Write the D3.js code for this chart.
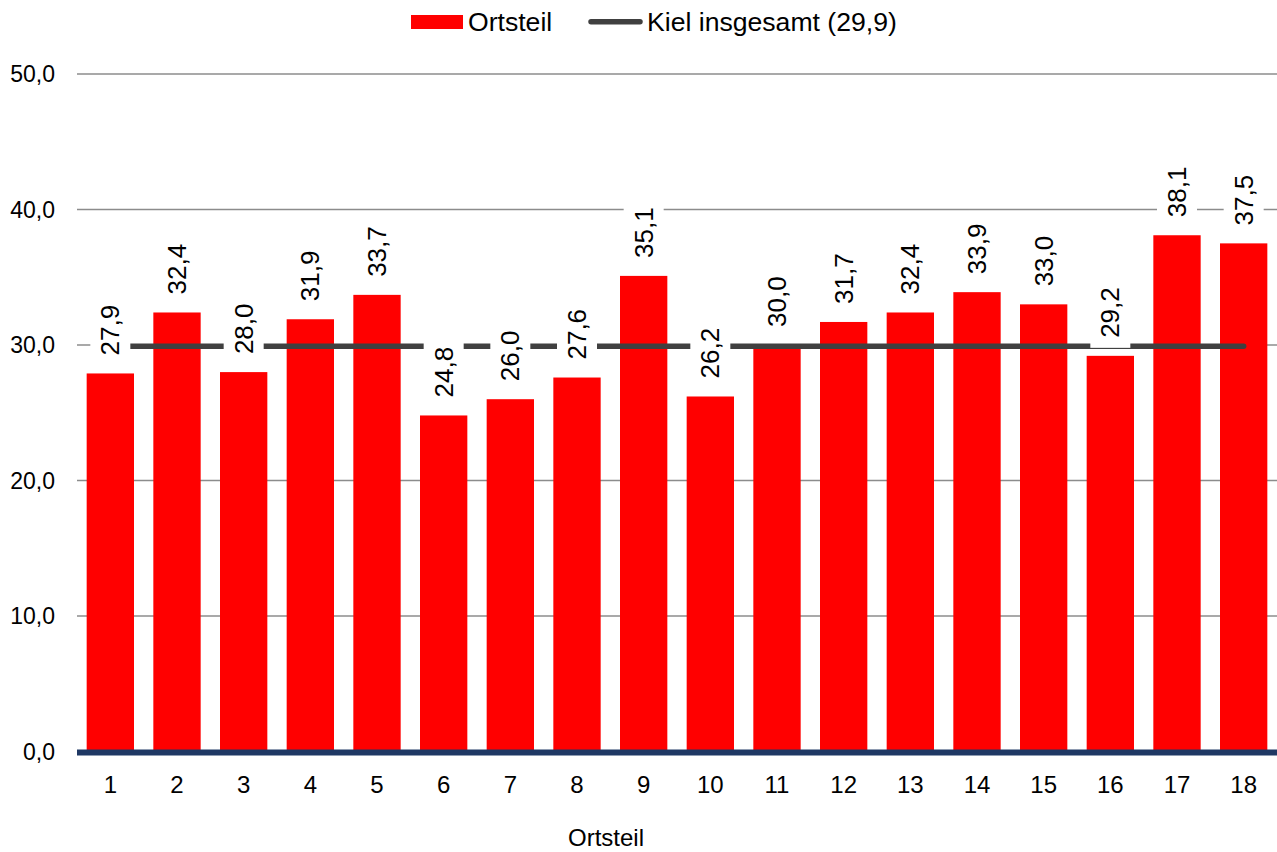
<!DOCTYPE html>
<html>
<head>
<meta charset="utf-8">
<script src="https://cdn.jsdelivr.net/npm/d3@7"></script>
<style>
  html, body { margin: 0; padding: 0; background: #fff; }
  svg { display: block; font-family: "Liberation Sans", Arial, sans-serif; }
</style>
</head>
<body>
<svg id="chart" width="1277" height="852"></svg>
<script>
const categories = ["1","2","3","4","5","6","7","8","9","10","11","12","13","14","15","16","17","18"];
const values = [27.9, 32.4, 28.0, 31.9, 33.7, 24.8, 26.0, 27.6, 35.1, 26.2, 30.0, 31.7, 32.4, 33.9, 33.0, 29.2, 38.1, 37.5];
const kielTotal = 29.9;
const yTicks = [0, 10, 20, 30, 40, 50];
const seriesNames = ["Ortsteil", "Kiel insgesamt (29,9)"];
const axisTitle = "Ortsteil";

(function () {
const fmt = v => d3.format(".1f")(v).replace(".", ",");

const svg = d3.select("#chart");
const pLeft = 77, pRight = 1277, pTop = 74, pBottom = 751.5;

const x = d3.scaleBand().domain(categories).range([pLeft, pRight])
  .paddingInner(0.29).paddingOuter(0.145);
const y = d3.scaleLinear().domain([0, 50]).range([pBottom, pTop]);

// gridlines
svg.append("g").selectAll("line").data(yTicks).join("line")
  .attr("x1", pLeft).attr("x2", pRight)
  .attr("y1", d => y(d)).attr("y2", d => y(d))
  .attr("stroke", "#8c8c8c").attr("stroke-width", 1.5);

// y tick labels
svg.append("g").selectAll("text").data(yTicks).join("text")
  .attr("x", 55).attr("y", d => y(d)).attr("dy", "0.35em")
  .attr("text-anchor", "end").attr("font-size", 23).attr("fill", "#000")
  .text(d => fmt(d));

// bars
svg.append("g").selectAll("rect").data(values).join("rect")
  .attr("x", (d, i) => x(categories[i]))
  .attr("width", x.bandwidth())
  .attr("y", d => y(d))
  .attr("height", d => y(0) - y(d))
  .attr("fill", "#ff0000");

// Kiel line
const cx = c => x(c) + x.bandwidth() / 2;
svg.append("line")
  .attr("x1", cx(categories[0])).attr("x2", cx(categories[categories.length - 1]))
  .attr("y1", y(kielTotal)).attr("y2", y(kielTotal))
  .attr("stroke", "#404040").attr("stroke-width", 5.5).attr("stroke-linecap", "round");

// data labels with white boxes
const labelOffset = 18;
const lg = svg.append("g");
values.forEach((v, i) => {
  const c = cx(categories[i]);
  const start = y(v) - labelOffset;
  const g = lg.append("g");
  const rect = g.append("rect").attr("fill", "#fff");
  const t = g.append("text")
    .attr("transform", `translate(${c},${start}) rotate(-90)`)
    .attr("dy", "0.35em").attr("font-size", 26).attr("fill", "#000")
    .attr("text-anchor", "start")
    .text(fmt(v));
  const len = t.node().getComputedTextLength();
  rect.attr("x", c - 20).attr("width", 40)
    .attr("y", start - len - 6).attr("height", len + 6 + 10);
});

// x axis line
svg.append("line")
  .attr("x1", pLeft).attr("x2", pRight)
  .attr("y1", 752.5).attr("y2", 752.5)
  .attr("stroke", "#1f3864").attr("stroke-width", 6);

// x tick labels
svg.append("g").selectAll("text").data(categories).join("text")
  .attr("x", d => cx(d)).attr("y", 793)
  .attr("text-anchor", "middle").attr("font-size", 24).attr("fill", "#000")
  .text(d => d);

// axis title
svg.append("text").attr("x", 606).attr("y", 846)
  .attr("text-anchor", "middle").attr("font-size", 24).attr("fill", "#000")
  .text(axisTitle);

// legend
const leg = svg.append("g");
leg.append("rect").attr("x", 411).attr("y", 15).attr("width", 52).attr("height", 14).attr("fill", "#ff0000");
leg.append("text").attr("x", 468).attr("y", 31).attr("font-size", 26.6).attr("fill", "#000").text(seriesNames[0]);
leg.append("line").attr("x1", 591).attr("x2", 640).attr("y1", 21.7).attr("y2", 21.7)
  .attr("stroke", "#404040").attr("stroke-width", 5.5).attr("stroke-linecap", "round");
leg.append("text").attr("x", 647).attr("y", 31).attr("font-size", 26.6).attr("fill", "#000").text(seriesNames[1]);
})();
</script>
</body>
</html>
